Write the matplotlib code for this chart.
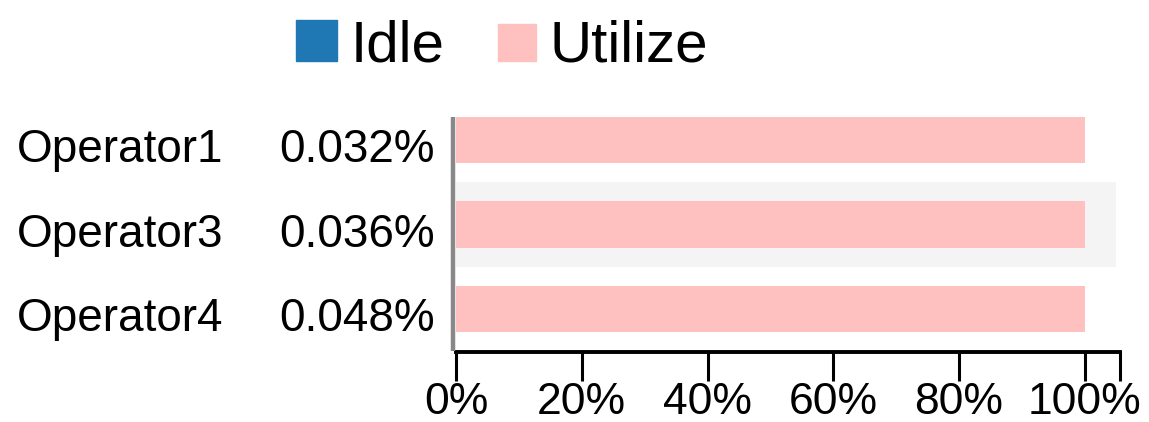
import matplotlib
matplotlib.use("Agg")
import matplotlib.pyplot as plt
from matplotlib.patches import Rectangle
from matplotlib.transforms import blended_transform_factory

plt.rcParams['font.family'] = ['Liberation Sans', 'DejaVu Sans']

operators = ["Operator1", "Operator3", "Operator4"]
idle = [0.032, 0.036, 0.048]
utilize = [100 - v for v in idle]
idle_labels = ["0.032%", "0.036%", "0.048%"]
ticks = [0, 20, 40, 60, 80, 100]
tick_labels = ["0%", "20%", "40%", "60%", "80%", "100%"]
series_names = ["Idle", "Utilize"]

BLUE = "#1f77b4"
PINK = "#ffc0c0"

W, H = 1149, 422
fig = plt.figure(figsize=(W / 100, H / 100), dpi=100)

x0, x1 = 456, 1120
y_top, y_bot = 97.5, 351.5
ax = fig.add_axes([x0 / W, 1 - y_bot / H, (x1 - x0) / W, (y_bot - y_top) / H])
xmax = 105.6
ax.set_xlim(0, xmax)
ax.set_ylim(len(operators) - 0.5, -0.5)

ypos = list(range(len(operators)))

# hover highlight band on second row
ax.barh(1, 105.0, left=0, height=1.0, color="#f4f4f4", zorder=0)

ax.barh(ypos, idle, height=0.544, color=BLUE, zorder=2)
ax.barh(ypos, utilize, left=idle, height=0.544, color=PINK, zorder=2)

for s in ["top", "right", "left"]:
    ax.spines[s].set_visible(False)
ax.spines["bottom"].set_linewidth(2.8)
ax.spines["bottom"].set_color("black")
ax.set_yticks([])
ax.set_xticks(ticks)
ax.set_xticklabels(tick_labels)
ax.set_xticks([xmax], minor=True)
ax.tick_params(axis="x", which="both", length=21, width=2.2, color="black",
               labelsize=32, pad=1)

# left gray line
ax.plot([-0.5, -0.5], [2.495, -0.27], color="#888888", lw=3.2,
        clip_on=False, zorder=3, solid_capstyle="butt")

tr = blended_transform_factory(fig.transFigure, ax.transData)
for i, (name, lab) in enumerate(zip(operators, idle_labels)):
    ax.text(17 / W, i + 0.26, name, transform=tr, ha="left", va="baseline",
            fontsize=33, color="black")
    ax.text(435 / W, i + 0.26, lab, transform=tr, ha="right", va="baseline",
            fontsize=33, color="black")

# legend
def fig_rect(x, y, w, h, color):
    fig.add_artist(Rectangle((x / W, 1 - (y + h) / H), w / W, h / H,
                             transform=fig.transFigure, color=color))

fig_rect(296, 20, 41, 41, BLUE)
fig.text(351 / W, 1 - 61 / H, series_names[0], ha="left", va="baseline",
         fontsize=42, color="black")
fig_rect(498, 24, 38, 37, PINK)
fig.text(549 / W, 1 - 61 / H, series_names[1], ha="left", va="baseline",
         fontsize=42, color="black")

fig.savefig("out.png", dpi=100)
